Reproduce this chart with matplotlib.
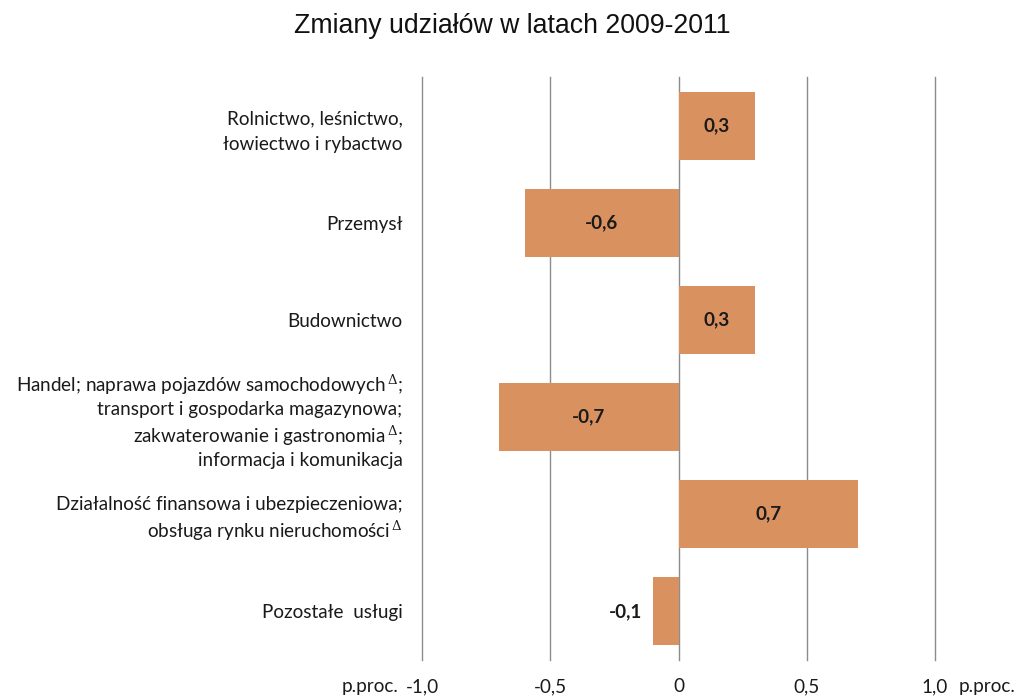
import matplotlib
matplotlib.use("Agg")
import matplotlib.pyplot as plt
import matplotlib.transforms as mtransforms

categories = [
    "Rolnictwo, leśnictwo,\nłowiectwo i rybactwo",
    "Przemysł",
    "Budownictwo",
    "Handel; naprawa pojazdów samochodowych$^{\\,\\Delta}$;\ntransport i gospodarka magazynowa;\nzakwaterowanie i gastronomia$^{\\,\\Delta}$;\ninformacja i komunikacja",
    "Działalność finansowa i ubezpieczeniowa;\nobsługa rynku nieruchomości$^{\\,\\Delta}$",
    "Pozostałe  usługi",
]
values = [0.3, -0.6, 0.3, -0.7, 0.7, -0.1]
value_labels = ["0,3", "-0,6", "0,3", "-0,7", "0,7", "-0,1"]
xticks = [-1.0, -0.5, 0.0, 0.5, 1.0]
xtick_labels = ["-1,0", "-0,5", "0", "0,5", "1,0"]
unit = "p.proc."
title = "Zmiany udziałów w latach 2009-2011"

plt.rcParams['font.family'] = ['Lato', 'DejaVu Sans']
plt.rcParams['mathtext.fontset'] = 'dejavuserif'

FS = 13.6
TXT = "#1a1a1a"

fig = plt.figure(figsize=(10.16, 6.98), dpi=100)
ax = fig.add_axes([422/1016, 1-660/698, (935-422)/1016, (660-77)/698])

bar_color = "#DA9160"
pos = list(range(len(values)))
ax.barh(pos, values, height=0.7, color=bar_color, zorder=3)
ax.set_xlim(-1.0, 1.0)
ax.set_ylim(len(values)-0.5, -0.5)

for x in xticks:
    ax.axvline(x, color="#8c8c8c", lw=1.0, zorder=1, clip_on=False)

ax.set_xticks(xticks)
ax.set_xticklabels(xtick_labels, fontsize=FS, color=TXT)
ax.tick_params(axis='x', length=0, pad=13)
ax.set_yticks(pos)
ax.set_yticklabels(categories, fontsize=FS, color=TXT)
for t in ax.get_yticklabels():
    t.set_linespacing(1.3 if '$' in t.get_text() else 1.62)
ax.tick_params(axis='y', length=0, pad=14)
for s in ax.spines.values():
    s.set_visible(False)

# unit labels
trans = mtransforms.blended_transform_factory(ax.transData, ax.transAxes)
ax.annotate(unit, xy=(-1.0, 0), xycoords=trans, xytext=(-17, -13), textcoords='offset points',
            ha='right', va='top', fontsize=FS, color=TXT)
ax.annotate(unit, xy=(1.0, 0), xycoords=trans, xytext=(17, -13), textcoords='offset points',
            ha='left', va='top', fontsize=FS, color=TXT)

for p, v, lab in zip(pos, values, value_labels):
    if abs(v) >= 0.2:
        ax.text(v/2, p, lab, ha='center', va='center', fontsize=FS, fontweight='bold', color=TXT, zorder=4)
    else:
        ax.annotate(lab, xy=(v, p), xytext=(-8, 0), textcoords='offset points',
                    ha='right', va='center', fontsize=FS, fontweight='bold', color=TXT, zorder=4)

fig.text(512/1016, 1-26/698, title, ha='center', va='center', fontsize=19.2,
         family=['Liberation Sans', 'DejaVu Sans'], color="#111111")

fig.savefig("out.png", dpi=100)
